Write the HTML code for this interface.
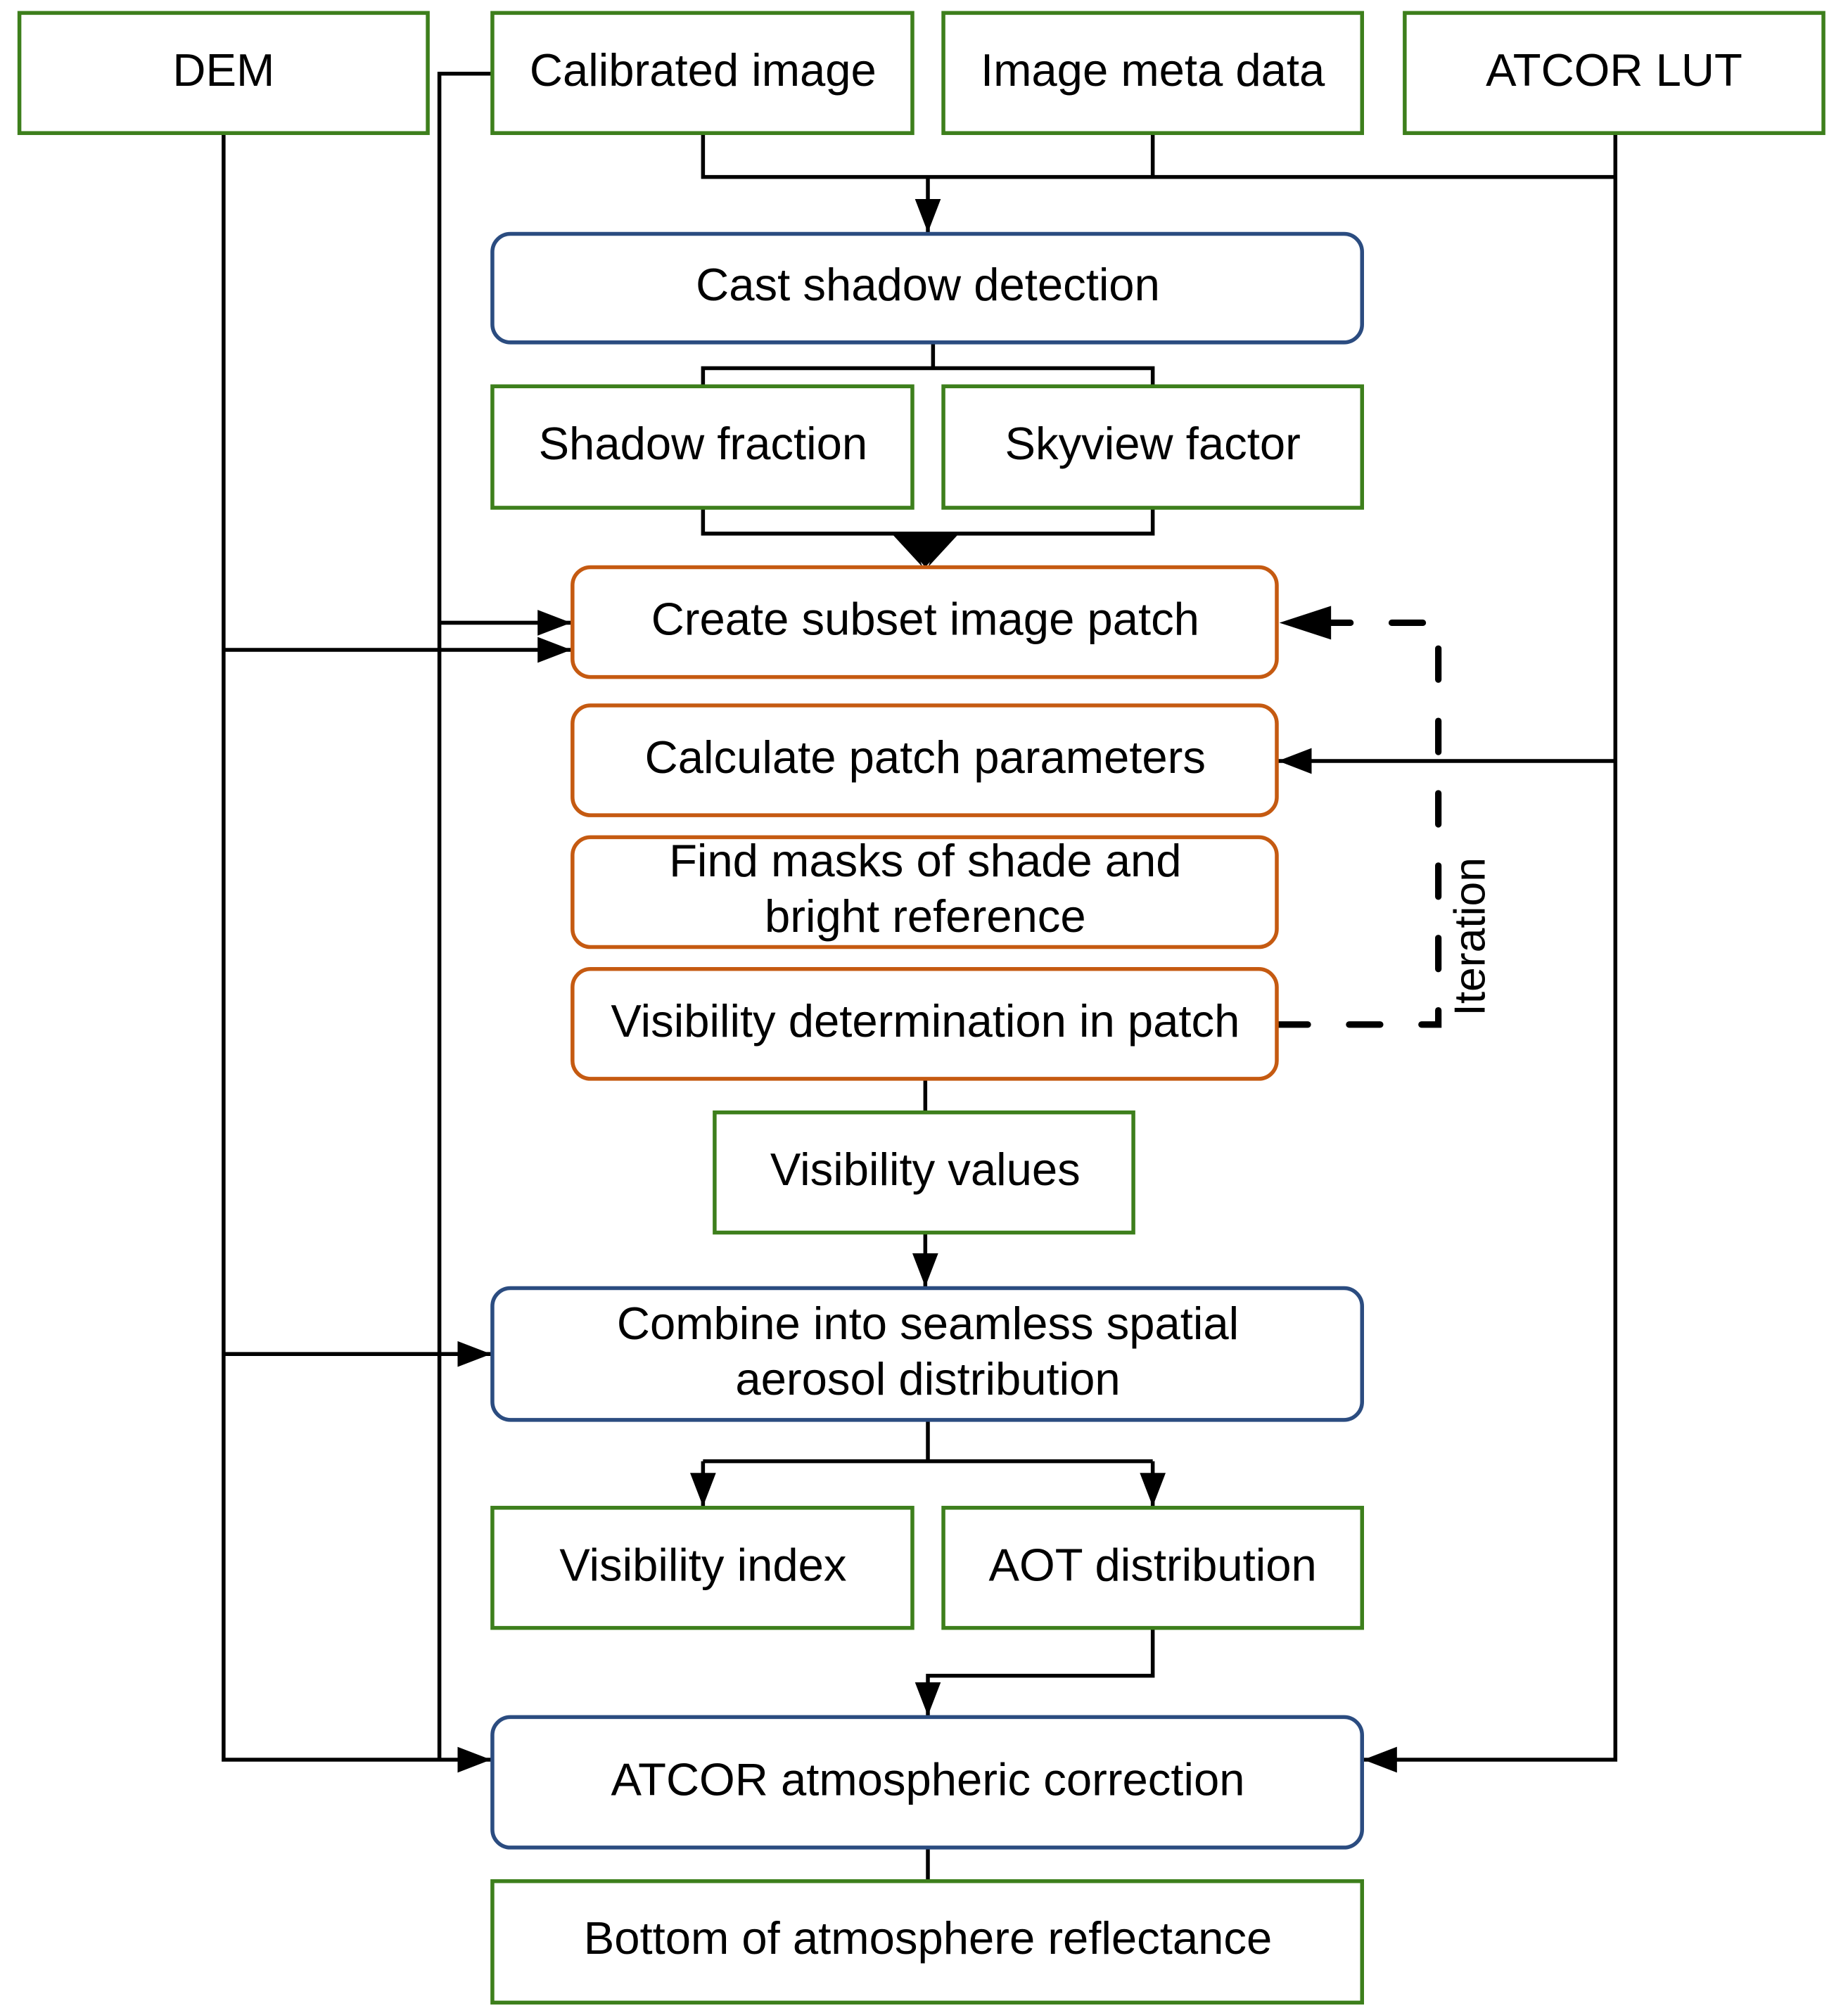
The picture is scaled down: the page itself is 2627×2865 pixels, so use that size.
<!DOCTYPE html>
<html><head><style>html,body{margin:0;padding:0;background:#fff}svg{display:block}</style></head>
<body>
<svg width="2627" height="2865" viewBox="0 0 1430 1559.6" xmlns="http://www.w3.org/2000/svg" font-family="Liberation Sans, Arial, sans-serif" font-size="35.5" text-anchor="middle">
<defs>
<marker id="a" viewBox="0 0 26 20" refX="26" refY="10" markerWidth="26" markerHeight="20" markerUnits="userSpaceOnUse" orient="auto"><path d="M0,0L26,10L0,20z"/></marker>
</defs>
<rect width="1430" height="1560" fill="#fff"/>
<g fill="none" stroke="#000" stroke-width="3">
<path d="M173,103V1362H380" marker-end="url(#a)"/>
<path d="M173,503H442" marker-end="url(#a)"/>
<path d="M173,1048H380" marker-end="url(#a)"/>
<path d="M381,57H340V1362"/>
<path d="M340,482H442" marker-end="url(#a)"/>
<path d="M544,103V137H1250M892,103V137"/>
<path d="M718,137V180" marker-end="url(#a)"/>
<path d="M1250,103V1362H1055" marker-end="url(#a)"/>
<path d="M1250,589H989" marker-end="url(#a)"/>
<path d="M722,265V285M544,299V285H892V299"/>
<path d="M544,393V413H892V393"/>
<path d="M716,835V861"/>
<path d="M716,954V996" marker-end="url(#a)"/>
<path d="M718,1099V1131H892M544,1131H892"/>
<path d="M544,1131V1166" marker-end="url(#a)"/>
<path d="M892,1131V1166" marker-end="url(#a)"/>
<path d="M892,1260V1297H718V1328" marker-end="url(#a)"/>
<path d="M718,1430V1456"/>
</g>
<path d="M690,413L714,439L704,413zM742,413L718,439L728,413z" fill="#000"/>
<path d="M693,412L716,439L740,412z" fill="#000"/>
<path d="M988,793H1113V482H1030" fill="none" stroke="#000" stroke-width="5" stroke-dasharray="24,32" stroke-linecap="round"/>
<path d="M990,482L1030,469V495z" fill="#000"/>
<text x="1140" y="725" transform="rotate(-90 1140 725)" font-size="34" dominant-baseline="middle">Iteration</text>
<g fill="#fff" stroke="#3d7f1c" stroke-width="3">
<rect x="15" y="10" width="316" height="93"/>
<rect x="381" y="10" width="325" height="93"/>
<rect x="730" y="10" width="324" height="93"/>
<rect x="1087" y="10" width="324" height="93"/>
<rect x="381" y="299" width="325" height="94"/>
<rect x="730" y="299" width="324" height="94"/>
<rect x="553" y="861" width="324" height="93"/>
<rect x="381" y="1167" width="325" height="93"/>
<rect x="730" y="1167" width="324" height="93"/>
<rect x="381" y="1456" width="673" height="94"/>
</g>
<g fill="#fff" stroke="#2b4c80" stroke-width="3">
<rect x="381" y="181" width="673" height="84" rx="14"/>
<rect x="381" y="997" width="673" height="102" rx="14"/>
<rect x="381" y="1329" width="673" height="101" rx="14"/>
</g>
<g fill="#fff" stroke="#c55a11" stroke-width="3">
<rect x="443" y="439" width="545" height="85" rx="14"/>
<rect x="443" y="546" width="545" height="85" rx="14"/>
<rect x="443" y="648" width="545" height="85" rx="14"/>
<rect x="443" y="750" width="545" height="85" rx="14"/>
</g>
<g fill="#000" dominant-baseline="middle">
<text x="173" y="57">DEM</text>
<text x="544" y="57">Calibrated image</text>
<text x="892" y="57">Image meta data</text>
<text x="1249" y="57">ATCOR LUT</text>
<text x="718" y="223">Cast shadow detection</text>
<text x="544" y="346">Shadow fraction</text>
<text x="892" y="346">Skyview factor</text>
<text x="716" y="482">Create subset image patch</text>
<text x="716" y="589">Calculate patch parameters</text>
<text x="716" y="669">Find masks of shade and</text>
<text x="716" y="712">bright reference</text>
<text x="716" y="793">Visibility determination in patch</text>
<text x="716" y="908">Visibility values</text>
<text x="718" y="1027">Combine into seamless spatial</text>
<text x="718" y="1070">aerosol distribution</text>
<text x="544" y="1214">Visibility index</text>
<text x="892" y="1214">AOT distribution</text>
<text x="718" y="1380">ATCOR atmospheric correction</text>
<text x="718" y="1503">Bottom of atmosphere reflectance</text>
</g>
</svg>
</body></html>
